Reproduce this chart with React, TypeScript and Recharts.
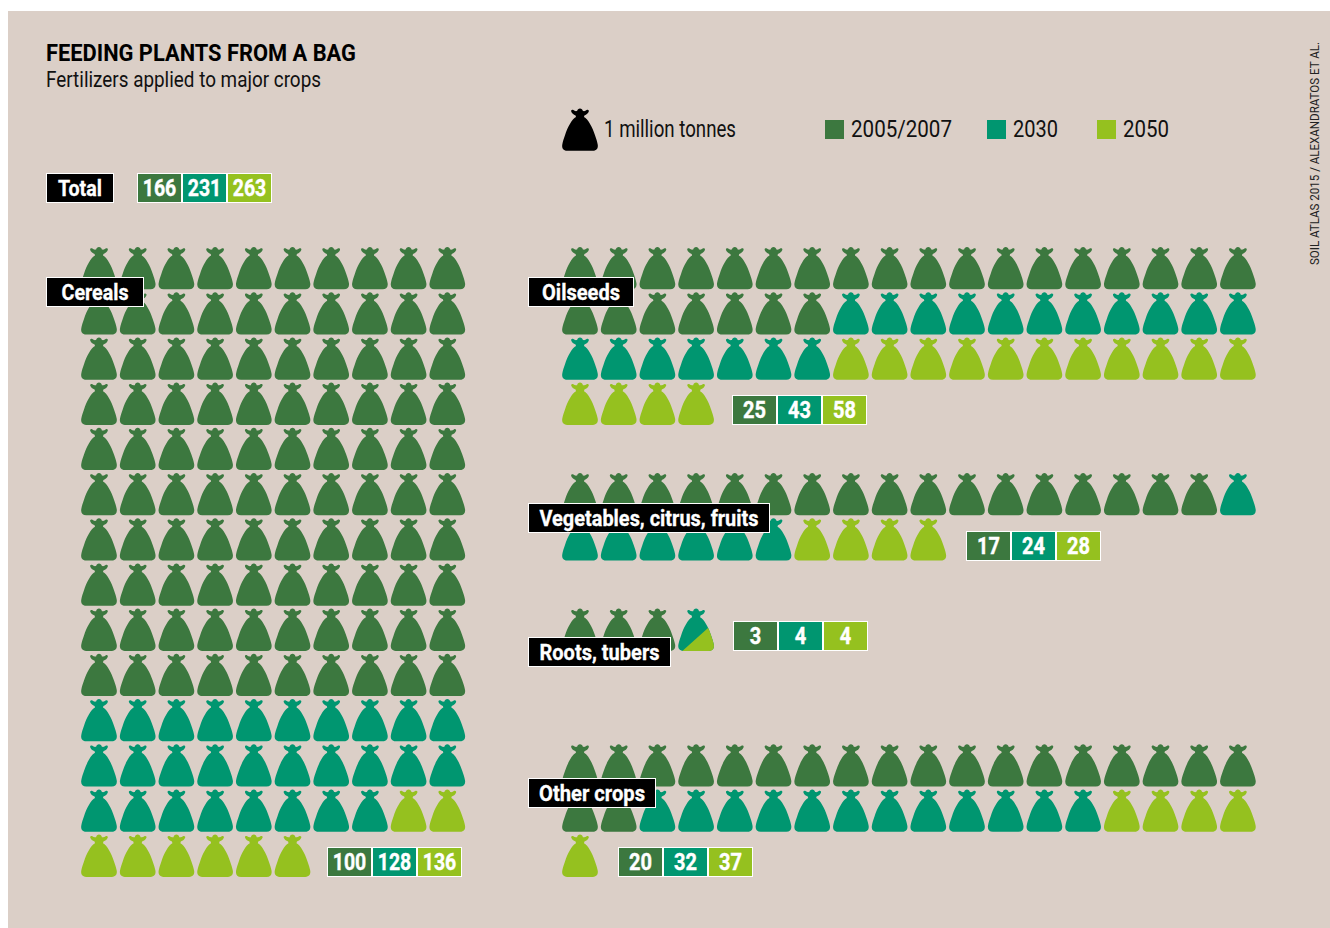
import React from 'react';
import { ScatterChart, Scatter, XAxis, YAxis } from 'recharts';

const W = 1330;
const H = 928;
const DARK = '#3C783F';
const TEAL = '#009670';
const LIME = '#95C11F';
const BG = '#DBCFC7';
const FONT = 'Roboto, "Liberation Sans", sans-serif';

const years = ['2005/2007', '2030', '2050'];
const seriesColors = [DARK, TEAL, LIME];
const totalValues = [166, 231, 263];
const cerealsValues = [100, 128, 136];
const oilseedsValues = [25, 43, 58];
const vegetablesValues = [17, 24, 28];
const rootsValues = [3, 4, 4];
const otherValues = [20, 32, 37];

// grid: one bag = one cell; pictogram column/row origin of each crop
const COL_W = 38.7;
const ROW_H = 45.2;
const X0 = 99;
const Y0 = 268;
const RIGHT_COL = (580 - X0) / COL_W;

const pictograms = [
  { values: cerealsValues, col: 0, row: 0, perRow: 10, mixedAt: -1 },
  { values: oilseedsValues, col: RIGHT_COL, row: 0, perRow: 18, mixedAt: -1 },
  { values: vegetablesValues, col: RIGHT_COL, row: 5, perRow: 18, mixedAt: -1 },
  { values: rootsValues, col: RIGHT_COL, row: 8, perRow: 18, mixedAt: 3 },
  { values: otherValues, col: RIGHT_COL, row: 11, perRow: 18, mixedAt: -1 },
];

type Pt = { x: number; y: number };
const dark: Pt[] = [];
const teal: Pt[] = [];
const lime: Pt[] = [];
const mixed: Pt[] = [];
pictograms.forEach((p) => {
  const n = p.values[2];
  for (let i = 0; i < n; i++) {
    const pt = { x: p.col + (i % p.perRow), y: p.row + Math.floor(i / p.perRow) };
    if (i === p.mixedAt) mixed.push(pt);
    else if (i < p.values[0]) dark.push(pt);
    else if (i < p.values[1]) teal.push(pt);
    else lime.push(pt);
  }
});

const BAG =
  'M0,0 C1.4,0 2.6,1 2.9,2.6 C4.4,3 5.6,2.6 6.6,1.6 C7.8,0.8 9.2,1.6 8.8,3 C8.2,4.8 6.6,6.2 4.4,7 L4,8.6 ' +
  'C8,10.5 12.5,19 15,26.8 C16.2,30.5 17.2,33 17.7,36 C18.4,39.8 16.6,42.3 12.8,42.3 ' +
  'L-12.8,42.3 C-16.6,42.3 -18.4,39.8 -17.7,36 C-17.2,33 -16.2,30.5 -15,26.8 C-12.5,19 -8,10.5 -4,8.6 ' +
  'L-4.4,7 C-6.6,6.2 -8.2,4.8 -8.8,3 C-9.2,1.6 -7.8,0.8 -6.6,1.6 C-5.6,2.6 -4.4,3 -2.9,2.6 C-2.6,1 -1.4,0 0,0 Z';

const bagShape = (fill: string) => (props: any) => (
  <path transform={`translate(${props.cx},${props.cy - 21})`} d={BAG} fill={fill} />
);

const MixedBag = (props: any) => (
  <g transform={`translate(${props.cx},${props.cy - 21})`}>
    <defs>
      <clipPath id="mixed-lower">
        <polygon points="-20,50 -16,44.5 13.6,18 20,12 20,50" />
      </clipPath>
    </defs>
    <path d={BAG} fill={TEAL} />
    <path d={BAG} fill={LIME} clipPath="url(#mixed-lower)" />
  </g>
);

const Fit = ({ width, children, ...rest }: any) => (
  <text textLength={width} lengthAdjust="spacingAndGlyphs" fontFamily={FONT} {...rest}>
    {children}
  </text>
);

const Label = ({ x, y, w, h, text, tw }: any) => (
  <g>
    <rect x={x + 0.5} y={y + 0.5} width={w - 1} height={h - 1} fill="#000" stroke="#fff" strokeWidth={1} />
    <Fit x={x + (w - tw) / 2} y={y + h / 2 + 7.5} width={tw} fill="#fff" stroke="#fff" strokeWidth={0.3} fontSize={22} fontWeight={700}>
      {text}
    </Fit>
  </g>
);

const valueWidth = (v: number) => (v >= 100 ? 33.5 : v >= 10 ? 23 : 11.5);

const Values = ({ x, y, values }: any) => {
  const w = 45;
  const h = 30;
  return (
    <g>
      {values.map((v: number, i: number) => (
        <g key={i}>
          <rect x={x + i * w + 0.5} y={y + 0.5} width={w - 1} height={h - 1} fill={seriesColors[i]} stroke="#fff" strokeWidth={1} />
          <Fit x={x + i * w + (w - valueWidth(v)) / 2} y={y + h / 2 + 7.8} width={valueWidth(v)} fill="#fff" stroke="#fff" strokeWidth={0.4} fontSize={23} fontWeight={700}>
            {v}
          </Fit>
        </g>
      ))}
    </g>
  );
};

const legendSwatches = [825, 987, 1097];
const legendWidths = [101, 45, 46];

export default function App() {
  return (
    <div style={{ position: 'absolute', left: 0, top: 0, width: W, height: H, overflow: 'hidden', background: '#fff' }}>
      <div style={{ position: 'absolute', left: 8, top: 11, width: W - 8, height: H - 11, background: BG }} />
      <div style={{ position: 'absolute', left: 0, top: 0 }}>
        <ScatterChart width={W} height={H} margin={{ top: 0, right: 0, bottom: 0, left: 0 }}>
          <XAxis type="number" dataKey="x" hide domain={[-X0 / COL_W, (W - X0) / COL_W]} allowDataOverflow />
          <YAxis type="number" dataKey="y" hide reversed domain={[-Y0 / ROW_H, (H - Y0) / ROW_H]} allowDataOverflow />
          <Scatter name={years[0]} data={dark} shape={bagShape(DARK)} isAnimationActive={false} />
          <Scatter name={years[1]} data={teal} shape={bagShape(TEAL)} isAnimationActive={false} />
          <Scatter name={years[2]} data={lime} shape={bagShape(LIME)} isAnimationActive={false} />
          <Scatter name="2030/2050" data={mixed} shape={MixedBag} isAnimationActive={false} />
        </ScatterChart>
      </div>
      <svg width={W} height={H} style={{ position: 'absolute', left: 0, top: 0, pointerEvents: 'none' }}>
        <Fit x={46} y={61} width={310} fontSize={24} fontWeight={700} fill="#000">FEEDING PLANTS FROM A BAG</Fit>
        <Fit x={46} y={87} width={275} fontSize={21.5} fill="#111">Fertilizers applied to major crops</Fit>
        <Fit transform="translate(1319,265) rotate(-90)" width={223} fontSize={13.5} fill="#222">SOIL ATLAS 2015 / ALEXANDRATOS ET AL.</Fit>

        <path transform="translate(580,108.5)" d={BAG} fill="#000" />
        <Fit x={604} y={137} width={132} fontSize={23} fill="#111">1 million tonnes</Fit>
        {years.map((y, i) => (
          <g key={y}>
            <rect x={legendSwatches[i]} y={120} width={19} height={19} fill={seriesColors[i]} />
            <Fit x={legendSwatches[i] + 26} y={137} width={legendWidths[i]} fontSize={23} fill="#111">{y}</Fit>
          </g>
        ))}

        <Label x={46} y={173} w={68} h={30} tw={44} text="Total" />
        <Values x={137} y={173} values={totalValues} />
        <Label x={46} y={277} w={98} h={30} tw={67} text="Cereals" />
        <Values x={327} y={847} values={cerealsValues} />
        <Label x={528} y={277} w={106} h={30} tw={78} text="Oilseeds" />
        <Values x={732} y={395} values={oilseedsValues} />
        <Label x={528} y={503} w={242} h={30} tw={219} text="Vegetables, citrus, fruits" />
        <Values x={966} y={531} values={vegetablesValues} />
        <Label x={528} y={637} w={143} h={30} tw={120} text="Roots, tubers" />
        <Values x={733} y={621} values={rootsValues} />
        <Label x={528} y={778} w={128} h={30} tw={106} text="Other crops" />
        <Values x={618} y={847} values={otherValues} />
      </svg>
    </div>
  );
}
